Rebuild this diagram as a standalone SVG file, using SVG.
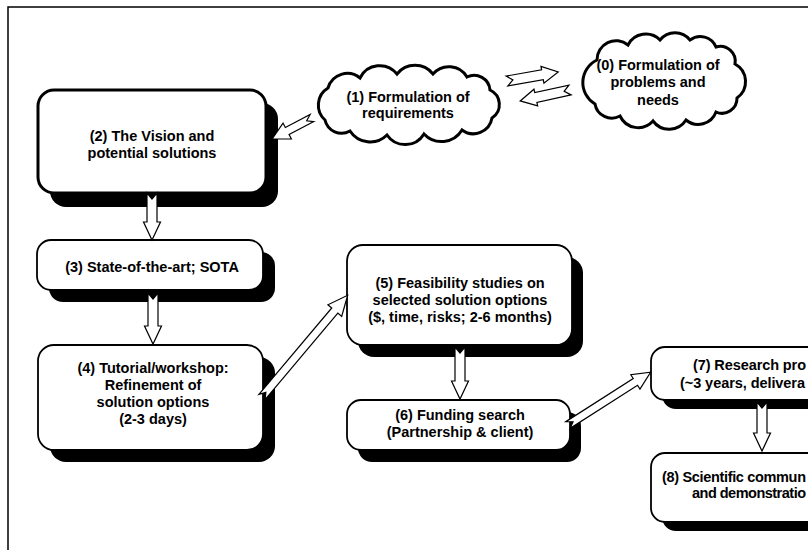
<svg xmlns="http://www.w3.org/2000/svg" width="808" height="550" viewBox="0 0 808 550">
<style>
.bg{fill:#fff}
.frame{fill:none;stroke:#000;stroke-width:1.5}
.box{fill:#fff;stroke:#000;stroke-width:1.8}
.box2{fill:#fff;stroke:#000;stroke-width:3}
.shadow{fill:#000}
.cloud{fill:#fff;stroke:#000;stroke-width:3;stroke-linejoin:miter}
.arrow{fill:#fff;stroke:#000;stroke-width:1.2;stroke-linejoin:miter}
.t{font-family:"Liberation Sans",Arial,sans-serif;font-weight:bold;font-size:14.5px;fill:#000;text-anchor:middle}
.ts{font-family:"Liberation Sans",Arial,sans-serif;font-weight:bold;font-size:14.5px;fill:#000;text-anchor:start}
</style>
<rect class="bg" x="0" y="0" width="808" height="550"/>
<path class="frame" d="M8,550 V7 H808"/>

<g id="node0">
<path class="cloud" d="M597,60 A19,19 0 0 1 628,45 A20,20 0 0 1 660,40 A19,19 0 0 1 690,40 A17,17 0 0 1 716,47 A15,15 0 0 1 735,64 A20,20 0 0 1 737,98 A15,15 0 0 1 716,112 A19,19 0 0 1 686,120 A20,20 0 0 1 653,121 A20,20 0 0 1 620,116 A17,17 0 0 1 595,104 A25,25 0 0 1 597,60 Z"/>
<text class="t" x="658" y="70">(0) Formulation of</text>
<text class="t" x="658" y="87">problems and</text>
<text class="t" x="658" y="105">needs</text>
</g>

<g id="node1">
<path class="cloud" d="M328,88 A20,20 0 0 1 360,78 A22,22 0 0 1 397,74 A23,23 0 0 1 433,74 A21,21 0 0 1 467,77 A16,16 0 0 1 490,90 A16,16 0 0 1 492,118 A19,19 0 0 1 462,130 A24,24 0 0 1 424,134 A22,22 0 0 1 387,135 A24,24 0 0 1 350,131 A17,17 0 0 1 325,120 A20,20 0 0 1 328,88 Z"/>
<text class="t" x="408" y="102">(1) Formulation of</text>
<text class="t" x="408" y="118">requirements</text>
</g>

<g id="node2">
<rect class="shadow" x="50" y="103" width="228" height="104" rx="16"/>
<rect class="box2" x="38" y="90" width="228" height="103" rx="16"/>
<text class="t" x="152" y="141">(2) The Vision and</text>
<text class="t" x="152" y="158">potential solutions</text>
</g>

<g id="node3">
<rect class="shadow" x="49" y="252" width="226" height="50" rx="14"/>
<rect class="box" x="37" y="240" width="226" height="50" rx="14"/>
<text class="t" x="152" y="272">(3) State-of-the-art; SOTA</text>
</g>

<g id="node4">
<rect class="shadow" x="50" y="357" width="225" height="105" rx="16"/>
<rect class="box" x="38" y="345" width="225" height="105" rx="16"/>
<text class="t" x="153" y="373">(4) Tutorial/workshop:</text>
<text class="t" x="153" y="390">Refinement of</text>
<text class="t" x="153" y="407">solution options</text>
<text class="t" x="153" y="424">(2-3 days)</text>
</g>

<g id="node5">
<rect class="shadow" x="358" y="257" width="225" height="100" rx="16"/>
<rect class="box" x="347" y="245" width="225" height="100" rx="16"/>
<text class="t" x="460" y="288">(5) Feasibility studies on</text>
<text class="t" x="460" y="305">selected solution options</text>
<text class="t" x="460" y="322">($, time, risks; 2-6 months)</text>
</g>

<g id="node6">
<rect class="shadow" x="358" y="412" width="223" height="50" rx="14"/>
<rect class="box" x="347" y="400" width="223" height="50" rx="14"/>
<text class="t" x="460" y="420">(6) Funding search</text>
<text class="t" x="460" y="437">(Partnership &amp; client)</text>
</g>

<g id="node7">
<rect class="shadow" x="662" y="356" width="225" height="53" rx="14"/>
<rect class="box" x="651" y="347" width="225" height="53" rx="14"/>
<text class="ts" x="693" y="370" textLength="113" lengthAdjust="spacing">(7) Research pro</text>
<text class="ts" x="680" y="388" textLength="125" lengthAdjust="spacing">(~3 years, delivera</text>
</g>

<g id="node8">
<rect class="shadow" x="662" y="462" width="225" height="69" rx="14"/>
<rect class="box" x="651" y="453" width="225" height="69" rx="14"/>
<text class="ts" x="662" y="482" textLength="144" lengthAdjust="spacing">(8) Scientific commun</text>
<text class="ts" x="692" y="498" textLength="114" lengthAdjust="spacing">and demonstratio</text>
</g>

<g id="connectors">
<path class="arrow" transform="translate(507,81) rotate(-10)" d="M0,-5 L36,-5 L36,-8.5 L52,0 L36,8.5 L36,5 L0,5 L6,0 Z"/>
<path class="arrow" transform="translate(570,90) rotate(167.6)" d="M0,-5 L35,-5 L35,-8.5 L51,0 L35,8.5 L35,5 L0,5 L6,0 Z"/>
<path class="arrow" transform="translate(312,118) rotate(152.3)" d="M0,-4 L28,-4 L28,-9 L45,0 L28,9 L28,4 L0,4 L6,0 Z"/>
<path class="arrow" d="M147,193 L152,199 L157,193 L157,222 L160.5,222 L152,240 L143.5,222 L147,222 Z"/>
<path class="arrow" d="M148,293 L153,299 L158,293 L158,326 L161.5,326 L153,344 L144.5,326 L148,326 Z"/>
<path class="arrow" transform="translate(262,397) rotate(-49.9)" d="M0,-4 L113,-4 L113,-9 L133,0 L113,9 L113,4 L0,4 L6,0 Z"/>
<path class="arrow" d="M455,347 L460,353 L465,347 L465,381 L468.5,381 L460,399 L451.5,381 L455,381 Z"/>
<path class="arrow" transform="translate(568,425) rotate(-32.6)" d="M0,-4 L80,-4 L80,-8.5 L98,0 L80,8.5 L80,4 L0,4 L6,0 Z"/>
<path class="arrow" d="M757,402 L762,408 L767,402 L767,433 L770.5,433 L762,451 L753.5,433 L757,433 Z"/>
</g>
</svg>
